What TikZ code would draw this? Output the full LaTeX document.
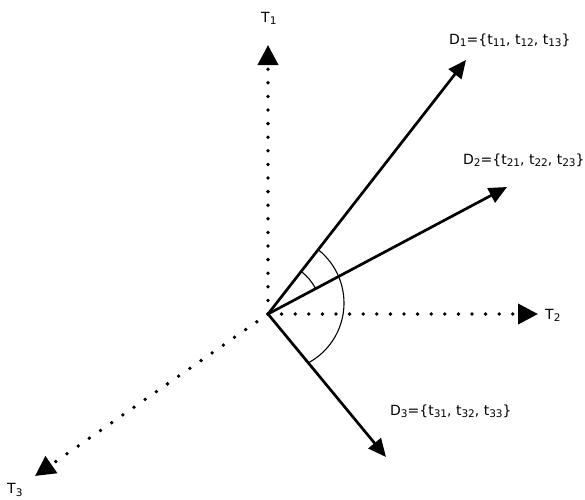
\documentclass[tikz,border=0pt]{standalone}
\usepackage{fontspec}
\setmainfont{DejaVu Sans}
\usetikzlibrary{arrows.meta}
\newcommand{\sbs}[1]{\raisebox{-0.15em}{\fontsize{10.5}{11}\selectfont #1}}
\begin{document}
\begin{tikzpicture}[x=1pt,y=-1pt,
  axisline/.style={line width=3.8pt, line cap=round, dash pattern=on 0pt off 13.6pt,
     -{Triangle[length=20pt,width=20pt]}},
  docline/.style={line width=2.7pt, -{Triangle[length=18pt,width=16pt]}},
  anglearc/.style={line width=1.1pt},
  lbl/.style={font=\fontsize{14}{16}\selectfont, inner sep=0pt, anchor=west}]
\useasboundingbox (0,0) rectangle (585,499);
\coordinate (O) at (268,314);
\coordinate (T1) at (268,45);
\coordinate (T2) at (538,314);
\coordinate (T3) at (35,476);
\coordinate (D1) at (466,60);
\coordinate (D2) at (507,187);
\coordinate (D3) at (386,457);
\draw[axisline] (O) -- (T1);
\draw[axisline] (O) -- (T2);
\draw[axisline] (O) -- (T3);
\draw[docline] (O) -- (D1);
\draw[docline] (O) -- (D2);
\draw[docline] (O) -- (D3);
\draw[anglearc] (O) ++(-52.1:54) arc[start angle=-52.1, end angle=-28, radius=54];
\coordinate (C) at (276,303);
\draw[anglearc] (C) ++(-51.5:68) arc[start angle=-51.5, end angle=60.5, radius=68];
\node[lbl] (lT1) at (261,18) {T\sbs{1}};
\node[lbl] (lT2) at (545,315) {T\sbs{2}};
\node[lbl] (lT3) at (7,490) {T\sbs{3}};
\node[lbl] (lD1) at (449,40) {D\sbs{1}=\{t\sbs{11}, t\sbs{12}, t\sbs{13}\}};
\node[lbl] (lD2) at (463,160) {D\sbs{2}=\{t\sbs{21}, t\sbs{22}, t\sbs{23}\}};
\node[lbl] (lD3) at (390,411) {D\sbs{3}=\{t\sbs{31}, t\sbs{32}, t\sbs{33}\}};
\end{tikzpicture}
\end{document}
